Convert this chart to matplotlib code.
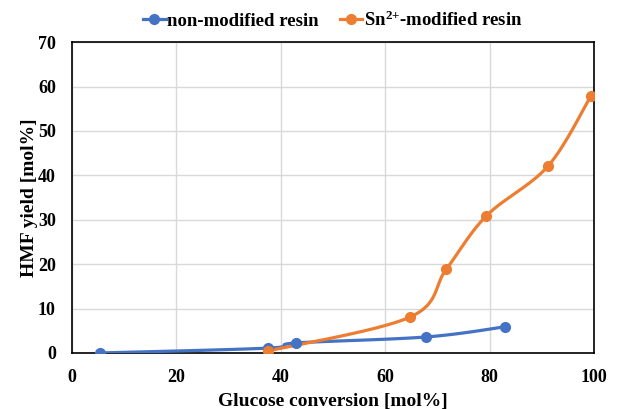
import numpy as np
import matplotlib
matplotlib.use('Agg')
from matplotlib import pyplot as plt

# data
x_plain = [5.4, 37.6, 42.9, 67.8, 83.0]
y_plain = [0.0, 1.1, 2.25, 3.6, 5.9]
x_sn = [37.6, 64.8, 71.7, 79.4, 91.2, 99.4]
y_sn = [0.45, 8.1, 18.85, 30.9, 42.1, 57.9]

plt.rcParams['font.family'] = ['Liberation Serif', 'DejaVu Serif']
plt.rcParams['font.weight'] = 'bold'
plt.rcParams['mathtext.fontset'] = 'custom'
plt.rcParams['mathtext.rm'] = 'Liberation Serif:bold'
plt.rcParams['mathtext.bf'] = 'Liberation Serif:bold'
plt.rcParams['mathtext.default'] = 'rm'


def smooth(xs, ys, sx=5.22, sy=4.44, n=30):
    # excel-like smoothed line: cubic bezier, control points from neighbours
    p = np.column_stack([np.asarray(xs) * sx, np.asarray(ys) * sy])
    out = [p[0]]
    for i in range(len(p) - 1):
        p0 = p[i - 1] if i > 0 else p[i]
        p1, p2 = p[i], p[i + 1]
        p3 = p[i + 2] if i + 2 < len(p) else p[i + 1]
        c1 = p1 + (p2 - p0) / 6.0
        c2 = p2 - (p3 - p1) / 6.0
        t = np.linspace(0, 1, n)[1:, None]
        seg = ((1 - t) ** 3) * p1 + 3 * ((1 - t) ** 2) * t * c1 + 3 * (1 - t) * t * t * c2 + t ** 3 * p2
        out.extend(seg)
    out = np.array(out)
    return out[:, 0] / sx, out[:, 1] / sy


fig = plt.figure(figsize=(6.24, 4.09), dpi=100)
ax = fig.add_axes([0.115, 0.137, 0.837, 0.760])

blue = '#4472c4'
orange = '#ed7d31'

sx, sy = smooth(x_plain, y_plain)
ax.plot(sx, sy, color=blue, lw=2.3, zorder=3)
ax.plot(x_plain, y_plain, 'o', color=blue, ms=7, zorder=4)
ox, oy = smooth(x_sn, y_sn)
ax.plot(ox, oy, color=orange, lw=2.3, zorder=3)
ax.plot(x_sn, y_sn, 'o', color=orange, ms=7, zorder=4)

# legend handles
ax.plot([], [], '-o', color=blue, lw=2.3, ms=7, label='non-modified resin')
ax.plot([], [], '-o', color=orange, lw=2.3, ms=7, label='Sn$^{2{+}}$-modified resin')

ax.set_xlim(0, 100)
ax.set_ylim(0, 70)
ax.set_xticks(np.arange(0, 101, 20))
ax.set_yticks(np.arange(0, 71, 10))
ax.grid(True, color='#d9d9d9', lw=1.0)
ax.set_axisbelow(True)
for s in ax.spines.values():
    s.set_color('black')
    s.set_linewidth(1.2)
ax.tick_params(length=0, labelsize=13)
ax.tick_params(axis='x', pad=11.5)
ax.tick_params(axis='y', pad=11.5)
for lab in ax.get_xticklabels() + ax.get_yticklabels():
    lab.set_fontweight('bold')

ax.set_xlabel('Glucose conversion [mol%]', fontsize=14, fontweight='bold', labelpad=5)
ax.set_ylabel('HMF yield [mol%]', fontsize=14, fontweight='bold', labelpad=0)

leg = ax.legend(loc='lower center', bbox_to_anchor=(0.5, 1.01), ncol=2, frameon=False,
                prop={'size': 13.5, 'weight': 'bold'}, handlelength=1.2, handletextpad=0.1,
                columnspacing=1.1, borderaxespad=0.1)

plt.savefig('out.png', dpi=100)
